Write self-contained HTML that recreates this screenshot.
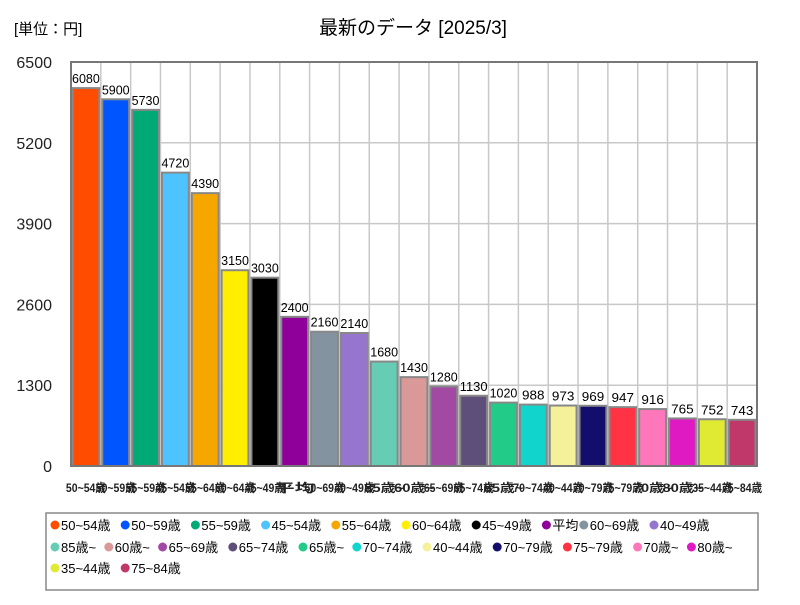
<!DOCTYPE html>
<html><head><meta charset="utf-8">
<style>
body{margin:0;background:#fff;width:800px;height:600px;overflow:hidden;font-family:"Liberation Sans","Noto Sans CJK JP",sans-serif;}
svg text{font-family:"Liberation Sans","Noto Sans CJK JP",sans-serif;}
</style></head><body>
<svg id="chart" width="800" height="600" xmlns="http://www.w3.org/2000/svg">
<text x="14" y="34" font-size="15" fill="#000">[単位：円]</text>
<text x="413" y="34" font-size="19" text-anchor="middle" fill="#000">最新のデータ [2025/3]</text>
<g id="grid"></g><g id="bars"></g><g id="yticks"></g><g id="xlabels"></g>
<rect x="71" y="62" width="686" height="404" fill="none" stroke="#777" stroke-width="2"/>
<rect x="46" y="513" width="712" height="77" fill="#fff" stroke="#888" stroke-width="1.5"/>
<g id="legend"></g>
</svg>
<script>
const categories=["50~54歳","50~59歳","55~59歳","45~54歳","55~64歳","60~64歳","45~49歳","平均","60~69歳","40~49歳","85歳~","60歳~","65~69歳","65~74歳","65歳~","70~74歳","40~44歳","70~79歳","75~79歳","70歳~","80歳~","35~44歳","75~84歳"];
const values=[6080,5900,5730,4720,4390,3150,3030,2400,2160,2140,1680,1430,1280,1130,1020,988,973,969,947,916,765,752,743];
const colors=["#ff4c00","#0055ff","#00aa77","#4dc3ff","#f5a700","#ffee00","#000000","#8e0099","#8493a0","#9575cd","#66cdb4","#d99999","#a249a4","#5e4e7a","#22cc88","#11d4cc","#f5f09a","#130d6b","#ff3344","#ff77bb","#e01ac3","#e0ea33","#c0386a"];
const yTicks=[0,1300,2600,3900,5200,6500];
const L=71,T=62,W=686,H=404,yMax=6500;
const NS="http://www.w3.org/2000/svg";
const y=v=>T+H-v/yMax*H;
const slot=W/categories.length;
const x=i=>L+i*slot;
function mk(tag,attrs,parent){const e=document.createElementNS(NS,tag);for(const k in attrs)e.setAttribute(k,attrs[k]);parent.appendChild(e);return e;}
const grid=document.getElementById('grid'),bars=document.getElementById('bars'),yt=document.getElementById('yticks'),xl=document.getElementById('xlabels'),lg=document.getElementById('legend');
yTicks.forEach(t=>{
 const g=mk('line',{x1:L,x2:L+W,y1:y(t),y2:y(t),stroke:'#c8c8c8','stroke-width':1.5},grid);
 
 
 const tx=mk('text',{x:52,y:y(t)+6,'font-size':16,'text-anchor':'end',fill:'#222'},yt);
 tx.textContent=t;
 
 
});
categories.forEach((c,i)=>{
 const gl=mk('line',{x1:x(i+1),x2:x(i+1),y1:T,y2:T+H,stroke:'#c8c8c8','stroke-width':1.5},grid);
 
 
 const r=mk('rect',{x:x(i)+1.5,y:y(values[i]),width:slot-3,height:T+H-y(values[i]),fill:colors[i],stroke:'#888','stroke-width':2},bars);
 
 
 const v=mk('text',{x:x(i)+slot/2,y:y(values[i])-5,'font-size':13,'text-anchor':'middle',fill:'#000',textLength:Math.min(slot-2,String(values[i]).length*7.5),lengthAdjust:'spacingAndGlyphs'},bars);
 v.textContent=values[i];
 
 
 const lb=mk('text',{x:x(i)+slot/2,y:492,'font-size':12,'font-weight':'bold','text-anchor':'middle',fill:'#222',textLength:40,lengthAdjust:'spacingAndGlyphs'},xl);
 lb.textContent=c;
 
 
});
const rows=[[0,10],[10,21],[21,23]];
const rowY=[530,552,573];
rows.forEach((r,ri)=>{
 let cx=50;
 for(let i=r[0];i<r[1];i++){
  const g=mk('g',{},lg);
  
  
  mk('circle',{cx:cx+5,cy:rowY[ri]-5,r:4.5,fill:colors[i]},g);
  const t=mk('text',{x:cx+11,y:rowY[ri],'font-size':13,fill:'#000'},g);
  t.textContent=categories[i];
  cx+=11+categories[i].length*8.2+10;
 }
});
</script>
</body></html>
